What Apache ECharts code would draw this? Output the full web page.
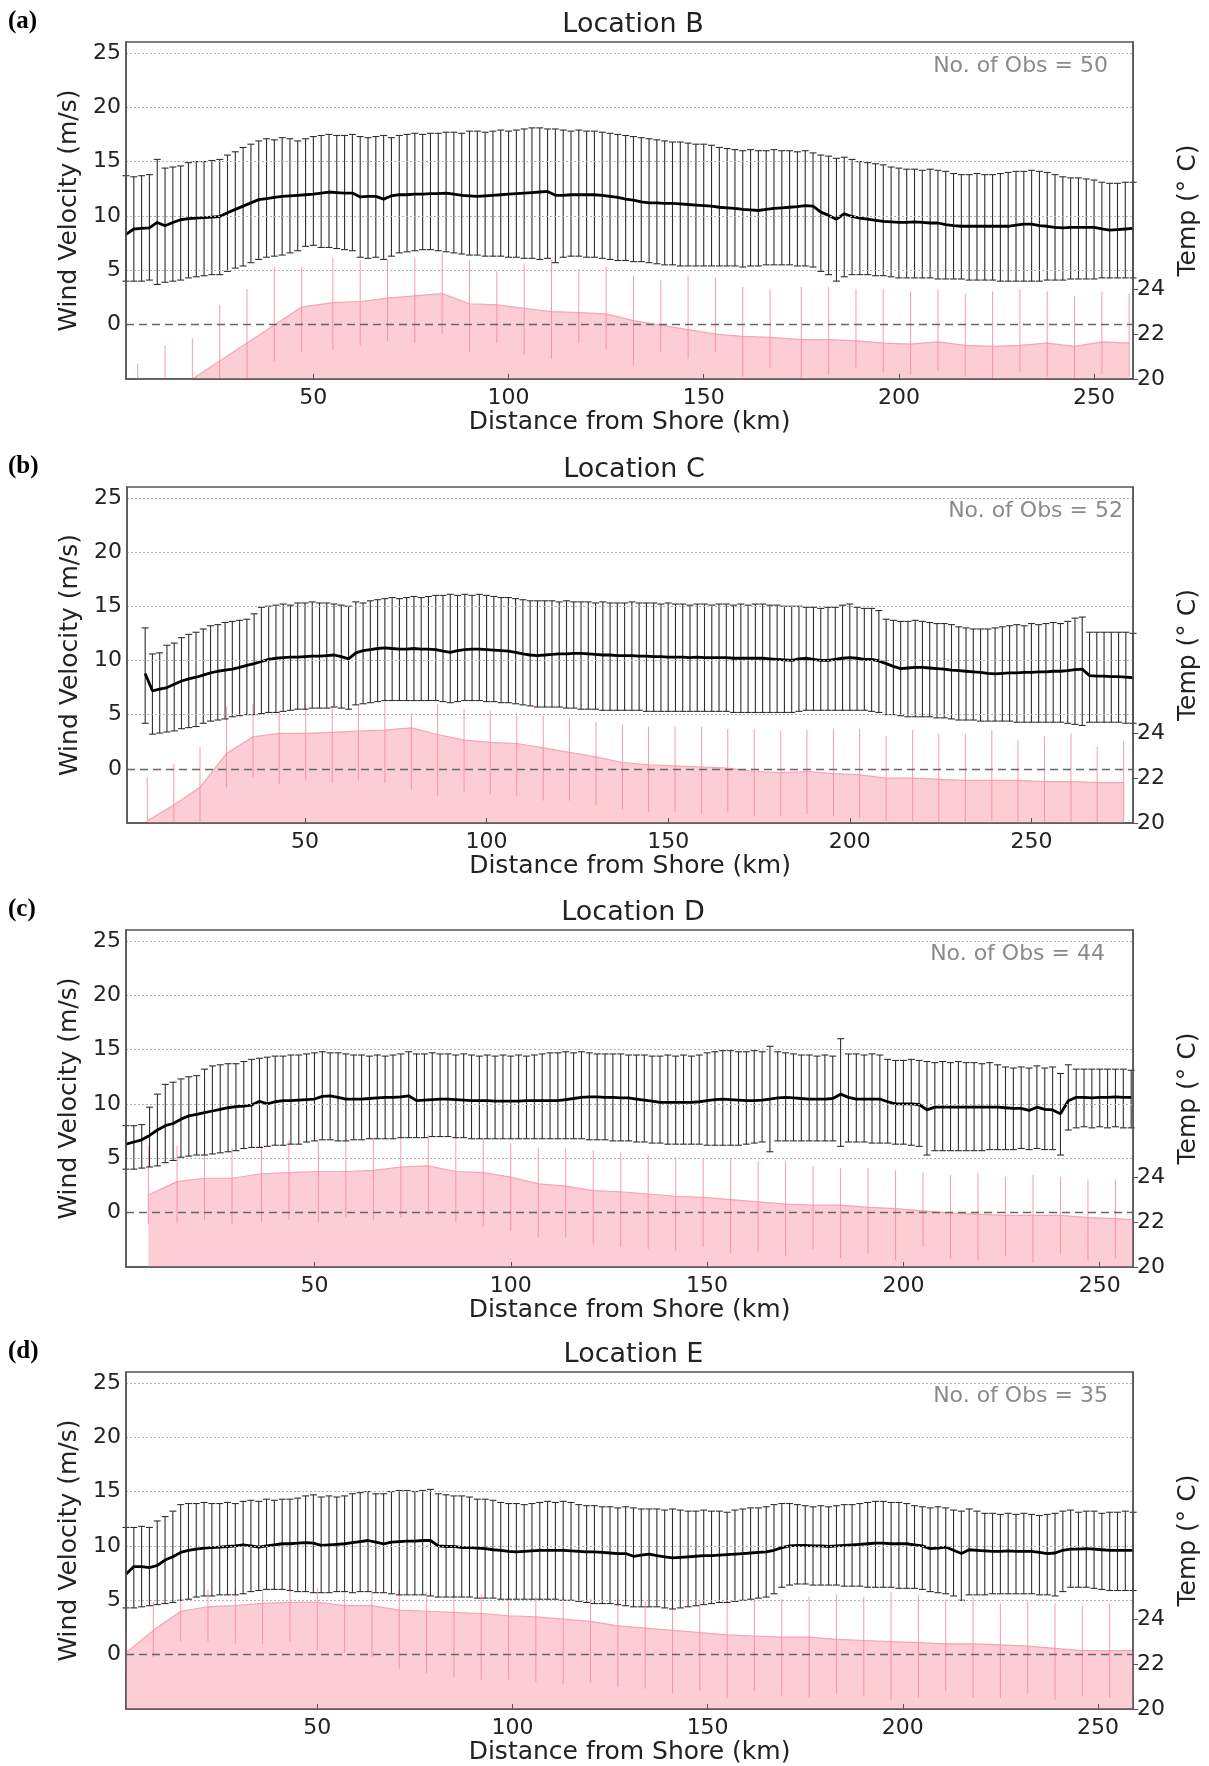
<!DOCTYPE html>
<html><head><meta charset="utf-8">
<script src="https://cdn.jsdelivr.net/npm/echarts/dist/echarts.min.js"></script>
<style>html,body{margin:0;padding:0;background:#fff;overflow:hidden}#main{width:1209px;height:1766px}</style>
</head><body><div id="main"></div>
<script>
// ---------- Location B ----------
const distB = [2,4,6,8,10,12,14,16,18,20,22,24,26,28,30,32,34,36,38,40,42,44,46,48,50,52,54,56,58,60,62,64,66,68,70,72,74,76,78,80,82,84,86,88,90,92,94,96,98,100,102,104,106,108,110,112,114,116,118,120,122,124,126,128,130,132,134,136,138,140,142,144,146,148,150,152,154,156,158,160,162,164,166,168,170,172,174,176,178,180,182,184,186,188,190,192,194,196,198,200,202,204,206,208,210,212,214,216,218,220,222,224,226,228,230,232,234,236,238,240,242,244,246,248,250,252,254,256,258,260];
const windMeanB = [8.3,8.8,8.85,8.9,9.4,9.1,9.4,9.65,9.75,9.8,9.85,9.9,9.95,10.3,10.6,10.9,11.2,11.5,11.6,11.7,11.8,11.85,11.9,11.95,12.0,12.1,12.2,12.15,12.1,12.1,11.75,11.8,11.8,11.55,11.85,11.95,11.95,12.0,12.0,12.05,12.05,12.1,12.0,11.9,11.85,11.8,11.85,11.9,11.95,12.0,12.05,12.1,12.15,12.2,12.25,11.9,11.9,11.95,11.95,11.95,11.95,11.9,11.8,11.7,11.55,11.45,11.3,11.2,11.2,11.15,11.15,11.1,11.05,11.0,10.95,10.9,10.8,10.75,10.7,10.6,10.55,10.5,10.6,10.7,10.75,10.8,10.85,10.95,10.9,10.35,10.05,9.7,10.2,9.95,9.8,9.7,9.6,9.5,9.45,9.4,9.4,9.45,9.4,9.35,9.35,9.2,9.1,9.05,9.05,9.05,9.05,9.05,9.05,9.05,9.15,9.25,9.25,9.1,9.05,8.95,8.9,8.95,8.95,8.95,8.95,8.8,8.7,8.75,8.8,8.85];
const windHiB = [13.7,13.6,13.7,13.8,15.2,14.4,14.5,14.6,14.9,15.0,15.0,15.1,15.2,15.6,15.9,16.3,16.6,16.9,17.1,17.0,17.2,17.1,16.9,17.1,17.3,17.4,17.5,17.4,17.4,17.5,17.3,17.2,17.3,17.4,17.2,17.4,17.5,17.6,17.5,17.6,17.6,17.7,17.7,17.6,17.8,17.8,17.7,17.8,17.9,17.8,17.9,18.0,18.1,18.1,18.0,18.0,17.9,17.8,17.9,17.8,17.8,17.7,17.6,17.5,17.4,17.3,17.2,17.1,17.0,16.9,16.8,16.8,16.7,16.6,16.6,16.5,16.3,16.2,16.1,16.0,16.1,16.0,16.0,16.1,16.0,16.0,15.9,16.0,15.8,15.6,15.5,15.3,15.4,15.2,15.0,14.9,14.8,14.7,14.5,14.4,14.3,14.3,14.2,14.3,14.2,14.1,13.9,13.8,13.8,13.9,13.8,13.8,13.9,14.0,14.1,14.1,14.2,14.1,14.0,13.8,13.6,13.5,13.5,13.4,13.3,13.1,13.0,13.0,13.1,13.1];
const windLoB = [4.0,4.0,4.0,4.1,3.7,3.9,4.0,4.1,4.3,4.4,4.5,4.6,4.6,4.9,5.2,5.4,5.7,6.0,6.2,6.3,6.4,6.6,6.8,7.2,7.3,7.1,7.1,7.0,6.9,6.8,6.2,6.1,6.2,6.0,6.3,6.6,6.7,6.8,6.9,6.9,6.8,6.7,6.6,6.5,6.4,6.4,6.3,6.3,6.3,6.2,6.2,6.1,6.1,6.0,6.1,5.7,6.2,6.3,6.3,6.2,6.2,6.1,6.0,5.9,5.9,5.8,5.8,5.7,5.6,5.5,5.5,5.4,5.4,5.4,5.4,5.4,5.4,5.4,5.4,5.3,5.4,5.4,5.5,5.5,5.5,5.5,5.4,5.4,5.3,4.9,4.6,4.0,4.4,4.6,4.6,4.6,4.5,4.5,4.4,4.3,4.3,4.3,4.3,4.3,4.2,4.2,4.2,4.2,4.1,4.1,4.1,4.1,4.0,4.0,4.0,4.0,4.0,4.0,4.1,4.1,4.1,4.2,4.2,4.2,4.2,4.3,4.3,4.3,4.3,4.3];
const tempDistB = [5,12,19,26,33,40,47,55,62,69,76,83,90,97,104,111,118,125,132,139,146,153,160,167,175,182,189,196,203,210,217,224,231,238,245,252,259];
const tempMeanB = [18.6,19.4,20.0,20.8,21.6,22.4,23.2,23.4,23.45,23.6,23.7,23.8,23.35,23.3,23.15,23.0,22.95,22.9,22.6,22.4,22.2,22.0,21.9,21.85,21.75,21.75,21.7,21.6,21.55,21.65,21.5,21.45,21.5,21.6,21.45,21.65,21.6];
const tempHiB = [20.7,21.5,21.8,23.3,24.0,25.0,25.0,25.4,25.3,25.3,25.4,25.6,25.3,24.8,25.1,25.3,24.9,25.0,24.6,24.4,24.6,24.5,24.1,24.0,24.1,24.1,24.0,24.0,23.9,24.0,23.8,23.9,24.0,23.9,23.7,23.9,23.8];
const tempLoB = [16.5,17.3,18.2,18.9,19.6,20.8,21.2,21.3,21.5,21.7,21.6,22.0,21.2,21.6,21.1,20.9,21.6,21.3,20.6,21.2,20.9,21.2,20.1,20.5,20.0,20.2,20.5,20.3,20.2,20.4,20.1,20.0,20.3,20.1,20.0,20.2,20.1];

// ---------- Location C ----------
const distC = [6,8,10,12,14,16,18,20,22,24,26,28,30,32,34,36,38,40,42,44,46,48,50,52,54,56,58,60,62,64,66,68,70,72,74,76,78,80,82,84,86,88,90,92,94,96,98,100,102,104,106,108,110,112,114,116,118,120,122,124,126,128,130,132,134,136,138,140,142,144,146,148,150,152,154,156,158,160,162,164,166,168,170,172,174,176,178,180,182,184,186,188,190,192,194,196,198,200,202,204,206,208,210,212,214,216,218,220,222,224,226,228,230,232,234,236,238,240,242,244,246,248,250,252,254,256,258,260,262,264,266,268,270,272,274,276,278];
const windMeanC = [8.8,7.2,7.35,7.5,7.8,8.1,8.3,8.45,8.65,8.85,9.0,9.1,9.2,9.35,9.55,9.7,9.9,10.1,10.2,10.25,10.3,10.3,10.35,10.4,10.4,10.45,10.5,10.35,10.15,10.7,10.9,11.0,11.1,11.15,11.1,11.05,11.05,11.1,11.05,11.05,11.0,10.85,10.75,10.9,11.0,11.05,11.05,11.0,10.95,10.9,10.85,10.75,10.6,10.5,10.45,10.5,10.55,10.6,10.6,10.65,10.65,10.6,10.55,10.5,10.5,10.45,10.45,10.45,10.4,10.4,10.35,10.35,10.3,10.3,10.3,10.25,10.3,10.25,10.25,10.25,10.25,10.2,10.2,10.2,10.2,10.2,10.15,10.1,10.05,10.0,10.15,10.2,10.1,10.0,10.0,10.1,10.2,10.25,10.2,10.1,10.1,9.95,9.7,9.45,9.25,9.3,9.35,9.35,9.3,9.25,9.2,9.1,9.05,9.0,8.95,8.9,8.8,8.75,8.8,8.85,8.85,8.9,8.9,8.95,8.95,9.0,9.0,9.05,9.15,9.2,8.6,8.55,8.55,8.5,8.5,8.45,8.4];
const windHiC = [13.0,10.6,10.7,11.4,11.6,12.1,12.4,12.6,12.9,13.2,13.3,13.5,13.6,13.7,13.8,14.3,14.9,15.0,15.1,15.2,15.1,15.3,15.3,15.4,15.3,15.3,15.2,15.1,15.0,15.4,15.3,15.5,15.6,15.7,15.8,15.7,15.8,15.9,15.8,15.9,16.0,16.0,16.1,16.0,16.1,16.0,16.1,16.0,15.9,15.8,15.8,15.7,15.6,15.5,15.5,15.5,15.5,15.4,15.5,15.4,15.4,15.4,15.3,15.4,15.3,15.3,15.3,15.4,15.3,15.3,15.3,15.2,15.3,15.2,15.2,15.1,15.2,15.2,15.1,15.2,15.2,15.1,15.2,15.1,15.2,15.2,15.1,15.1,15.0,15.0,15.0,14.9,14.9,14.8,14.9,14.9,15.1,15.2,14.9,14.8,14.8,14.6,13.8,13.7,13.6,13.6,13.7,13.6,13.5,13.4,13.4,13.3,13.1,13.0,12.9,12.9,12.9,13.0,13.1,13.2,13.3,13.2,13.4,13.3,13.4,13.5,13.4,13.6,13.9,14.0,12.6,12.6,12.6,12.6,12.6,12.6,12.5];
const windLoC = [4.2,3.2,3.3,3.4,3.5,3.7,3.8,3.9,4.2,4.4,4.5,4.6,4.8,4.9,5.0,5.0,5.1,5.2,5.2,5.3,5.4,5.5,5.5,5.6,5.6,5.6,5.7,5.6,5.5,5.9,6.0,6.1,6.2,6.3,6.3,6.3,6.3,6.3,6.3,6.3,6.3,6.2,6.1,6.2,6.3,6.3,6.3,6.2,6.2,6.1,6.1,6.0,5.9,5.8,5.7,5.7,5.7,5.7,5.6,5.6,5.5,5.5,5.5,5.4,5.4,5.4,5.4,5.4,5.4,5.3,5.3,5.3,5.3,5.3,5.3,5.3,5.3,5.3,5.3,5.3,5.3,5.2,5.2,5.2,5.2,5.2,5.2,5.2,5.2,5.2,5.3,5.4,5.4,5.4,5.4,5.4,5.4,5.4,5.4,5.4,5.3,5.2,5.0,5.0,4.9,4.8,4.8,4.8,4.8,4.7,4.7,4.6,4.5,4.5,4.5,4.4,4.4,4.4,4.4,4.4,4.3,4.3,4.3,4.3,4.3,4.3,4.3,4.2,4.1,4.0,4.3,4.3,4.3,4.3,4.3,4.2,4.2];
const tempDistC = [6.6,13.9,21.1,28.4,35.7,42.9,50.2,57.5,64.7,72.0,79.3,86.5,93.8,101.0,108.3,115.6,122.8,130.1,137.4,144.6,151.9,159.2,166.4,173.7,181.0,188.2,195.5,202.7,210.0,217.3,224.5,231.8,239.1,246.3,253.6,260.9,268.1,275.4];
const tempMeanC = [20.1,20.8,21.6,23.1,23.85,24.0,24.0,24.05,24.1,24.15,24.25,23.95,23.7,23.6,23.55,23.35,23.15,22.95,22.7,22.6,22.55,22.5,22.45,22.3,22.25,22.3,22.2,22.15,22.0,22.0,21.95,21.9,21.9,21.9,21.85,21.85,21.8,21.8];
const tempHiC = [22.05,22.65,23.4,25.2,25.3,25.0,25.3,25.2,25.2,25.5,24.9,25.3,25.1,25.0,24.9,24.8,24.7,24.5,24.4,24.3,24.3,24.3,24.2,24.2,24.1,24.15,24.2,24.2,23.85,24.15,24.0,24.0,24.15,23.7,23.85,24.0,23.4,23.65];
const tempLoC = [18.2,18.8,19.6,21.6,22.05,21.75,21.9,21.8,21.9,21.8,21.5,21.2,21.4,21.3,21.2,21.0,21.0,20.8,20.6,20.5,20.5,20.4,20.5,20.3,20.3,20.4,20.3,20.2,20.1,20.1,20.0,20.0,20.1,20.0,19.9,20.0,19.9,19.9];

// ---------- Location D ----------
const distD = [2,4,6,8,10,12,14,16,18,20,22,24,26,28,30,32,34,36,38,40,42,44,46,48,50,52,54,56,58,60,62,64,66,68,70,72,74,76,78,80,82,84,86,88,90,92,94,96,98,100,102,104,106,108,110,112,114,116,118,120,122,124,126,128,130,132,134,136,138,140,142,144,146,148,150,152,154,156,158,160,162,164,166,168,170,172,174,176,178,180,182,184,186,188,190,192,194,196,198,200,202,204,206,208,210,212,214,216,218,220,222,224,226,228,230,232,234,236,238,240,242,244,246,248,250,252,254,256,258];
const windMeanD = [6.3,6.5,6.7,7.1,7.6,8.0,8.2,8.6,8.9,9.05,9.2,9.35,9.5,9.65,9.75,9.8,9.9,10.25,10.0,10.2,10.3,10.3,10.35,10.4,10.45,10.7,10.75,10.6,10.45,10.45,10.45,10.5,10.55,10.6,10.6,10.65,10.75,10.3,10.35,10.4,10.45,10.45,10.4,10.35,10.3,10.3,10.3,10.25,10.25,10.25,10.25,10.3,10.3,10.3,10.3,10.3,10.4,10.5,10.6,10.65,10.65,10.6,10.6,10.55,10.55,10.45,10.35,10.25,10.15,10.15,10.15,10.15,10.15,10.2,10.3,10.4,10.45,10.4,10.35,10.3,10.3,10.35,10.45,10.55,10.6,10.55,10.5,10.45,10.45,10.45,10.5,10.9,10.6,10.45,10.45,10.45,10.45,10.2,10.0,10.0,10.0,9.95,9.45,9.7,9.7,9.7,9.7,9.7,9.7,9.7,9.7,9.7,9.65,9.6,9.6,9.4,9.7,9.5,9.45,9.1,10.3,10.6,10.6,10.55,10.6,10.6,10.65,10.6,10.6];
const windHiD = [8.0,8.0,8.1,9.7,10.9,11.8,12.0,12.3,12.5,12.6,13.2,13.5,13.6,13.7,13.7,13.9,14.1,14.2,14.3,14.4,14.4,14.5,14.5,14.6,14.7,14.8,14.7,14.7,14.6,14.5,14.5,14.4,14.5,14.4,14.5,14.6,14.8,14.6,14.6,14.7,14.6,14.6,14.5,14.6,14.5,14.4,14.5,14.4,14.5,14.4,14.5,14.4,14.5,14.6,14.7,14.7,14.8,14.7,14.8,14.7,14.6,14.6,14.6,14.6,14.5,14.5,14.5,14.4,14.4,14.5,14.4,14.5,14.4,14.5,14.7,14.8,14.9,14.9,14.8,14.8,14.9,14.8,15.3,14.8,14.7,14.6,14.5,14.5,14.4,14.5,14.4,16.0,14.6,14.6,14.5,14.6,14.5,14.1,14.0,14.0,14.1,14.0,13.9,13.8,13.9,13.8,13.9,13.8,13.8,13.7,13.8,13.6,13.4,13.3,13.4,13.3,13.5,13.3,13.4,12.8,13.6,13.2,13.2,13.2,13.2,13.2,13.2,13.2,13.1];
const windLoD = [4.0,4.0,4.1,4.2,4.3,4.6,4.8,5.1,5.2,5.3,5.3,5.4,5.5,5.6,5.7,5.9,6.0,6.0,6.1,6.2,6.2,6.3,6.3,6.5,6.6,6.7,6.7,6.6,6.6,6.7,6.7,6.8,6.8,6.8,6.8,6.9,6.9,6.9,6.9,7.0,7.0,7.0,6.9,6.9,6.8,6.8,6.8,6.8,6.8,6.8,6.8,6.8,6.8,6.8,6.8,6.8,6.8,6.8,6.8,6.7,6.7,6.7,6.6,6.6,6.6,6.5,6.5,6.4,6.4,6.3,6.3,6.3,6.3,6.3,6.2,6.2,6.2,6.2,6.2,6.3,6.4,6.5,5.6,6.6,6.6,6.6,6.6,6.6,6.6,6.6,6.6,6.1,6.5,6.5,6.5,6.4,6.4,6.4,6.3,6.3,6.2,6.1,5.3,5.7,5.7,5.7,5.7,5.7,5.7,5.7,5.8,5.8,5.8,5.8,5.9,5.8,5.9,5.8,5.8,5.3,7.6,7.8,7.9,7.8,7.9,7.8,7.9,7.8,7.8];
const tempDistD = [7.7,15,22,29,36.5,43.5,51,58,65,72,79,86,93,100,107,114,121,128,135,142,149,156,163,170,177,184,191,198,205,212,219,226,233,240,247,254,258.5];
const tempMeanD = [23.2,23.8,23.95,23.95,24.15,24.2,24.25,24.25,24.3,24.45,24.5,24.25,24.2,24.0,23.7,23.6,23.4,23.35,23.25,23.15,23.1,23.0,22.9,22.8,22.75,22.75,22.65,22.6,22.5,22.4,22.35,22.3,22.3,22.3,22.2,22.15,22.1];
const tempHiD = [25.4,25.4,25.5,25.3,25.4,25.65,25.6,25.7,25.7,25.8,25.9,26.0,25.7,25.5,25.3,25.3,25.2,25.1,25.0,24.9,24.8,24.8,24.7,24.7,24.5,24.4,24.4,24.3,24.2,24.1,24.2,24.0,24.1,24.0,23.9,23.9,22.1];
const tempLoD = [21.9,21.95,22.1,21.9,22.0,22.1,22.0,22.2,22.1,22.2,22.3,22.0,21.8,21.6,21.3,21.3,21.0,20.9,20.8,20.7,20.9,20.6,20.7,20.5,20.8,20.4,20.6,20.3,20.9,20.4,20.3,20.5,20.2,20.6,20.3,20.4,22.1];

// ---------- Location E ----------
const distE = [1,3,5,7,9,11,13,15,17,19,21,23,25,27,29,31,33,35,37,39,41,43,45,47,49,51,53,55,57,59,61,63,65,67,69,71,73,75,77,79,81,83,85,87,89,91,93,95,97,99,101,103,105,107,109,111,113,115,117,119,121,123,125,127,129,131,133,135,137,139,141,143,145,147,149,151,153,155,157,159,161,163,165,167,169,171,173,175,177,179,181,183,185,187,189,191,193,195,197,199,201,203,205,207,209,211,213,215,217,219,221,223,225,227,229,231,233,235,237,239,241,243,245,247,249,251,253,255,257,259];
const windMeanE = [7.4,8.1,8.1,8.0,8.2,8.7,9.0,9.4,9.6,9.7,9.8,9.85,9.9,9.95,10.0,10.1,10.0,9.9,10.0,10.1,10.2,10.2,10.25,10.3,10.25,10.05,10.1,10.15,10.2,10.3,10.4,10.5,10.35,10.2,10.35,10.4,10.45,10.45,10.5,10.5,10.0,9.95,9.95,9.85,9.85,9.8,9.75,9.65,9.6,9.5,9.45,9.5,9.55,9.6,9.6,9.6,9.6,9.55,9.5,9.45,9.45,9.4,9.35,9.3,9.3,9.05,9.15,9.25,9.1,9.0,8.9,8.95,9.0,9.05,9.1,9.1,9.15,9.2,9.25,9.3,9.35,9.4,9.45,9.6,9.85,10.0,10.05,10.05,10.0,10.0,9.95,10.0,10.05,10.1,10.15,10.2,10.25,10.25,10.2,10.2,10.2,10.1,10.0,9.75,9.8,9.9,9.6,9.3,9.65,9.6,9.55,9.5,9.5,9.55,9.5,9.5,9.5,9.4,9.3,9.35,9.6,9.7,9.7,9.75,9.7,9.65,9.6,9.6,9.6,9.6];
const windHiE = [11.7,11.7,11.8,11.7,12.3,12.7,13.2,13.8,13.9,13.9,14.0,13.9,13.9,14.0,13.9,14.1,14.2,14.1,14.3,14.2,14.3,14.3,14.4,14.6,14.7,14.5,14.6,14.5,14.6,14.8,14.9,15.0,14.8,14.8,15.0,15.1,15.1,15.0,15.1,15.2,14.8,14.7,14.6,14.6,14.5,14.3,14.3,14.2,14.0,13.9,13.9,13.8,13.9,14.0,14.1,14.0,14.1,14.0,13.8,13.7,13.7,13.6,13.6,13.5,13.6,13.5,13.4,13.4,13.4,13.3,13.4,13.3,13.2,13.2,13.3,13.2,13.2,13.1,13.3,13.4,13.5,13.5,13.6,13.8,13.9,13.9,13.8,13.7,13.6,13.7,13.6,13.7,13.8,13.8,13.9,14.0,14.1,14.1,14.0,14.0,13.9,13.7,13.6,13.5,13.6,13.5,13.3,13.2,13.4,13.2,13.0,13.0,12.9,13.0,12.9,13.0,12.9,12.8,12.9,13.0,13.2,13.3,13.1,13.2,13.2,13.0,13.1,13.1,13.2,13.1];
const windLoE = [4.3,4.3,4.4,4.5,4.6,4.7,4.8,5.0,5.1,5.3,5.4,5.4,5.5,5.5,5.5,5.6,5.8,5.9,6.0,6.0,6.0,5.9,5.8,5.8,5.7,5.7,5.7,5.8,5.8,5.7,5.8,5.8,5.7,5.7,5.6,5.5,5.5,5.5,5.5,5.4,5.3,5.3,5.3,5.3,5.3,5.2,5.2,5.2,5.1,5.1,5.1,5.1,5.1,5.1,5.1,5.1,5.0,5.0,4.9,4.8,4.7,4.7,4.7,4.6,4.5,4.4,4.4,4.4,4.4,4.3,4.2,4.3,4.4,4.5,4.6,4.7,4.8,4.8,4.9,5.0,5.1,5.2,5.3,5.6,6.2,6.4,6.5,6.5,6.4,6.4,6.4,6.4,6.3,6.3,6.3,6.2,6.2,6.2,6.2,6.1,6.1,6.1,6.0,5.8,5.7,5.6,5.4,5.0,5.5,5.5,5.5,5.6,5.6,5.6,5.6,5.6,5.6,5.5,5.5,5.4,5.8,6.2,6.2,6.2,6.1,6.0,5.9,5.9,5.9,5.9];
const tempDistE = [1,8,15,22,29,36,43,50,57,64,71,78,85,92,99,106,113,120,127,134,141,148,155,162,169,176,183,190,197,204,211,218,225,232,239,246,253,259];
const tempMeanE = [22.5,23.5,24.35,24.55,24.6,24.7,24.75,24.75,24.6,24.6,24.4,24.35,24.3,24.25,24.15,24.1,24.0,23.9,23.7,23.6,23.5,23.4,23.3,23.25,23.2,23.2,23.1,23.05,23.0,22.95,22.9,22.9,22.85,22.8,22.7,22.6,22.6,22.6];
const tempHiE = [23.5,24.8,25.2,25.3,25.3,25.3,25.3,25.4,25.3,25.3,25.3,25.2,25.1,25.1,25.0,25.0,25.0,24.9,24.9,24.8,24.8,24.8,24.9,24.9,24.9,25.0,25.1,25.0,25.2,25.1,24.9,25.0,24.7,24.8,24.7,24.6,24.7,24.5];
const tempLoE = [21.5,22.3,23.0,23.0,22.9,22.9,23.0,22.6,22.5,22.3,21.8,21.6,21.4,21.3,21.3,21.2,21.1,21.2,21.0,20.9,20.7,20.8,20.5,20.8,20.6,20.5,20.7,20.6,20.4,20.5,20.8,20.5,20.5,20.7,20.4,20.6,20.5,20.6];

// tick labels and reference lines
const xTicks = [50,100,150,200,250];
const windTicks = [0,5,10,15,20,25];
const windGrid = [5,10,15,20,25];
const tempTicks = [20,22,24];

const panels = [
  {tag:'(a)', title:'Location B', obs:'No. of Obs = 50', obsX:1108, left:126, top:42, width:1014, height:337, xMin:2, xMax:260,
   dist:distB, mean:windMeanB, hi:windHiB, lo:windLoB, tDist:tempDistB, tMean:tempMeanB, tHi:tempHiB, tLo:tempLoB},
  {tag:'(b)', title:'Location C', obs:'No. of Obs = 52', obsX:1123, left:127, top:487, width:1014, height:336, xMin:1, xMax:278,
   dist:distC, mean:windMeanC, hi:windHiC, lo:windLoC, tDist:tempDistC, tMean:tempMeanC, tHi:tempHiC, tLo:tempLoC},
  {tag:'(c)', title:'Location D', obs:'No. of Obs = 44', obsX:1105, left:126, top:930, width:1014, height:337, xMin:2, xMax:258.5,
   dist:distD, mean:windMeanD, hi:windHiD, lo:windLoD, tDist:tempDistD, tMean:tempMeanD, tHi:tempHiD, tLo:tempLoD},
  {tag:'(d)', title:'Location E', obs:'No. of Obs = 35', obsX:1108, left:126, top:1372, width:1015, height:337, xMin:1, xMax:259,
   dist:distE, mean:windMeanE, hi:windHiE, lo:windLoE, tDist:tempDistE, tMean:tempMeanE, tHi:tempHiE, tLo:tempLoE}
];

const FONT = 'DejaVu Sans';
const grid = [], xAxis = [], yAxis = [], series = [], graphic = [];

function windBar(params, api) {
  const x = api.value(0), lo = api.value(1), hi = api.value(2);
  const t = api.coord([x, hi]), b = api.coord([x, lo]);
  const c = 3.5, st = {stroke:'#2e2e2e', lineWidth:1.1};
  return {type:'group', children:[
    {type:'line', shape:{x1:t[0], y1:t[1], x2:b[0], y2:b[1]}, style:st},
    {type:'line', shape:{x1:t[0]-c, y1:t[1], x2:t[0]+c, y2:t[1]}, style:st},
    {type:'line', shape:{x1:b[0]-c, y1:b[1], x2:b[0]+c, y2:b[1]}, style:st}
  ]};
}
function tempBar(params, api) {
  const x = api.value(0), lo = api.value(1), hi = api.value(2);
  const t = api.coord([x, hi]), b = api.coord([x, lo]);
  const cs = params.coordSys;
  const y1 = Math.max(cs.y, t[1]), y2 = Math.min(cs.y + cs.height, b[1]);
  if (y2 - y1 < 0.5) return null;
  return {type:'line', shape:{x1:t[0], y1:y1, x2:t[0], y2:y2}, style:{stroke:'#f4899e', lineWidth:1, opacity:0.85}};
}

panels.forEach((p, i) => {
  grid.push({left:p.left, top:p.top, width:p.width, height:p.height, show:true, borderColor:'#555', borderWidth:1.5, backgroundColor:'transparent'});
  xAxis.push({gridIndex:i, type:'value', min:p.xMin, max:p.xMax, z:10,
    axisLine:{show:true, onZero:false, lineStyle:{color:'#555', width:1.5}},
    axisTick:{show:true, inside:true, length:5, customValues:xTicks, lineStyle:{color:'#555'}},
    axisLabel:{customValues:xTicks, fontSize:22, color:'#222', fontFamily:FONT, margin:8},
    splitLine:{show:false},
    name:'Distance from Shore (km)', nameLocation:'middle', nameGap:29,
    nameTextStyle:{fontSize:25, color:'#222', fontFamily:FONT}});
  yAxis.push({gridIndex:i, type:'value', min:-5, max:26, interval:5, position:'left', z:10,
    axisLine:{show:true, onZero:false, lineStyle:{color:'#555', width:1.5}},
    axisTick:{show:false},
    axisLabel:{customValues:windTicks, fontSize:22, color:'#222', fontFamily:FONT, margin:5},
    splitLine:{show:false},
    name:'Wind Velocity (m/s)', nameLocation:'middle', nameGap:40,
    nameTextStyle:{fontSize:25, color:'#222', fontFamily:FONT}});
  yAxis.push({gridIndex:i, type:'value', min:20, max:35, position:'right', z:10,
    axisLine:{show:true, onZero:false, lineStyle:{color:'#555', width:1.5}},
    axisTick:{show:true, customValues:tempTicks, length:5, lineStyle:{color:'#555'}},
    axisLabel:{customValues:tempTicks, fontSize:22, color:'#222', fontFamily:FONT, margin:4},
    splitLine:{show:false},
    name:'Temp (° C)', nameLocation:'middle', nameGap:41,
    nameTextStyle:{fontSize:25, color:'#222', fontFamily:FONT}});

  // dotted grid lines for the wind axis (0 is drawn dashed separately)
  series.push({type:'line', xAxisIndex:i, yAxisIndex:2*i, z:0, silent:true, data:[], symbol:'none',
    markLine:{silent:true, symbol:'none', label:{show:false}, animation:false,
      lineStyle:{color:'#b3b3b3', type:[2,2], width:1}, data:windGrid.map(v => ({yAxis:v}))}});
  series.push({type:'line', xAxisIndex:i, yAxisIndex:2*i+1, z:1, silent:true, symbol:'none',
    data:p.tDist.map((d, k) => [d, p.tMean[k]]),
    lineStyle:{color:'#f5a5b3', width:1.2},
    areaStyle:{color:'#fccdd4', opacity:1, origin:'start'}});
  series.push({type:'custom', xAxisIndex:i, yAxisIndex:2*i+1, z:2, silent:true,
    data:p.tDist.map((d, k) => [d, p.tLo[k], p.tHi[k]]),
    encode:{x:0, y:[1,2]}, renderItem:tempBar});
  series.push({type:'custom', xAxisIndex:i, yAxisIndex:2*i, z:3, silent:true,
    data:p.dist.map((d, k) => [d, p.lo[k], p.hi[k]]),
    encode:{x:0, y:[1,2]}, renderItem:windBar});
  series.push({type:'line', xAxisIndex:i, yAxisIndex:2*i, z:4, silent:true, symbol:'none',
    data:p.dist.map((d, k) => [d, p.mean[k]]),
    lineStyle:{color:'#000', width:2.8},
    markLine:{silent:true, symbol:'none', label:{show:false}, animation:false,
      lineStyle:{color:'#666', type:[8,5], width:1.3}, data:[{yAxis:0}]}});

  graphic.push({type:'text', x:8, y:p.top - 20, z:20,
    style:{text:p.tag, font:'bold 25px "Liberation Serif"', fill:'#000', align:'left', verticalAlign:'middle'}});
  graphic.push({type:'text', x:p.left + p.width / 2, y:p.top - 17, z:20,
    style:{text:p.title, font:'27px "DejaVu Sans"', fill:'#222', align:'center', verticalAlign:'middle'}});
  graphic.push({type:'text', x:p.obsX, y:p.top + 24, z:20,
    style:{text:p.obs, font:'22px "DejaVu Sans"', fill:'#8a8a8a', align:'right', verticalAlign:'middle'}});
});

const chart = echarts.init(document.getElementById('main'), null, {renderer:'canvas'});
chart.setOption({animation:false, backgroundColor:'#fff', grid, xAxis, yAxis, series, graphic});
</script>
</body></html>
